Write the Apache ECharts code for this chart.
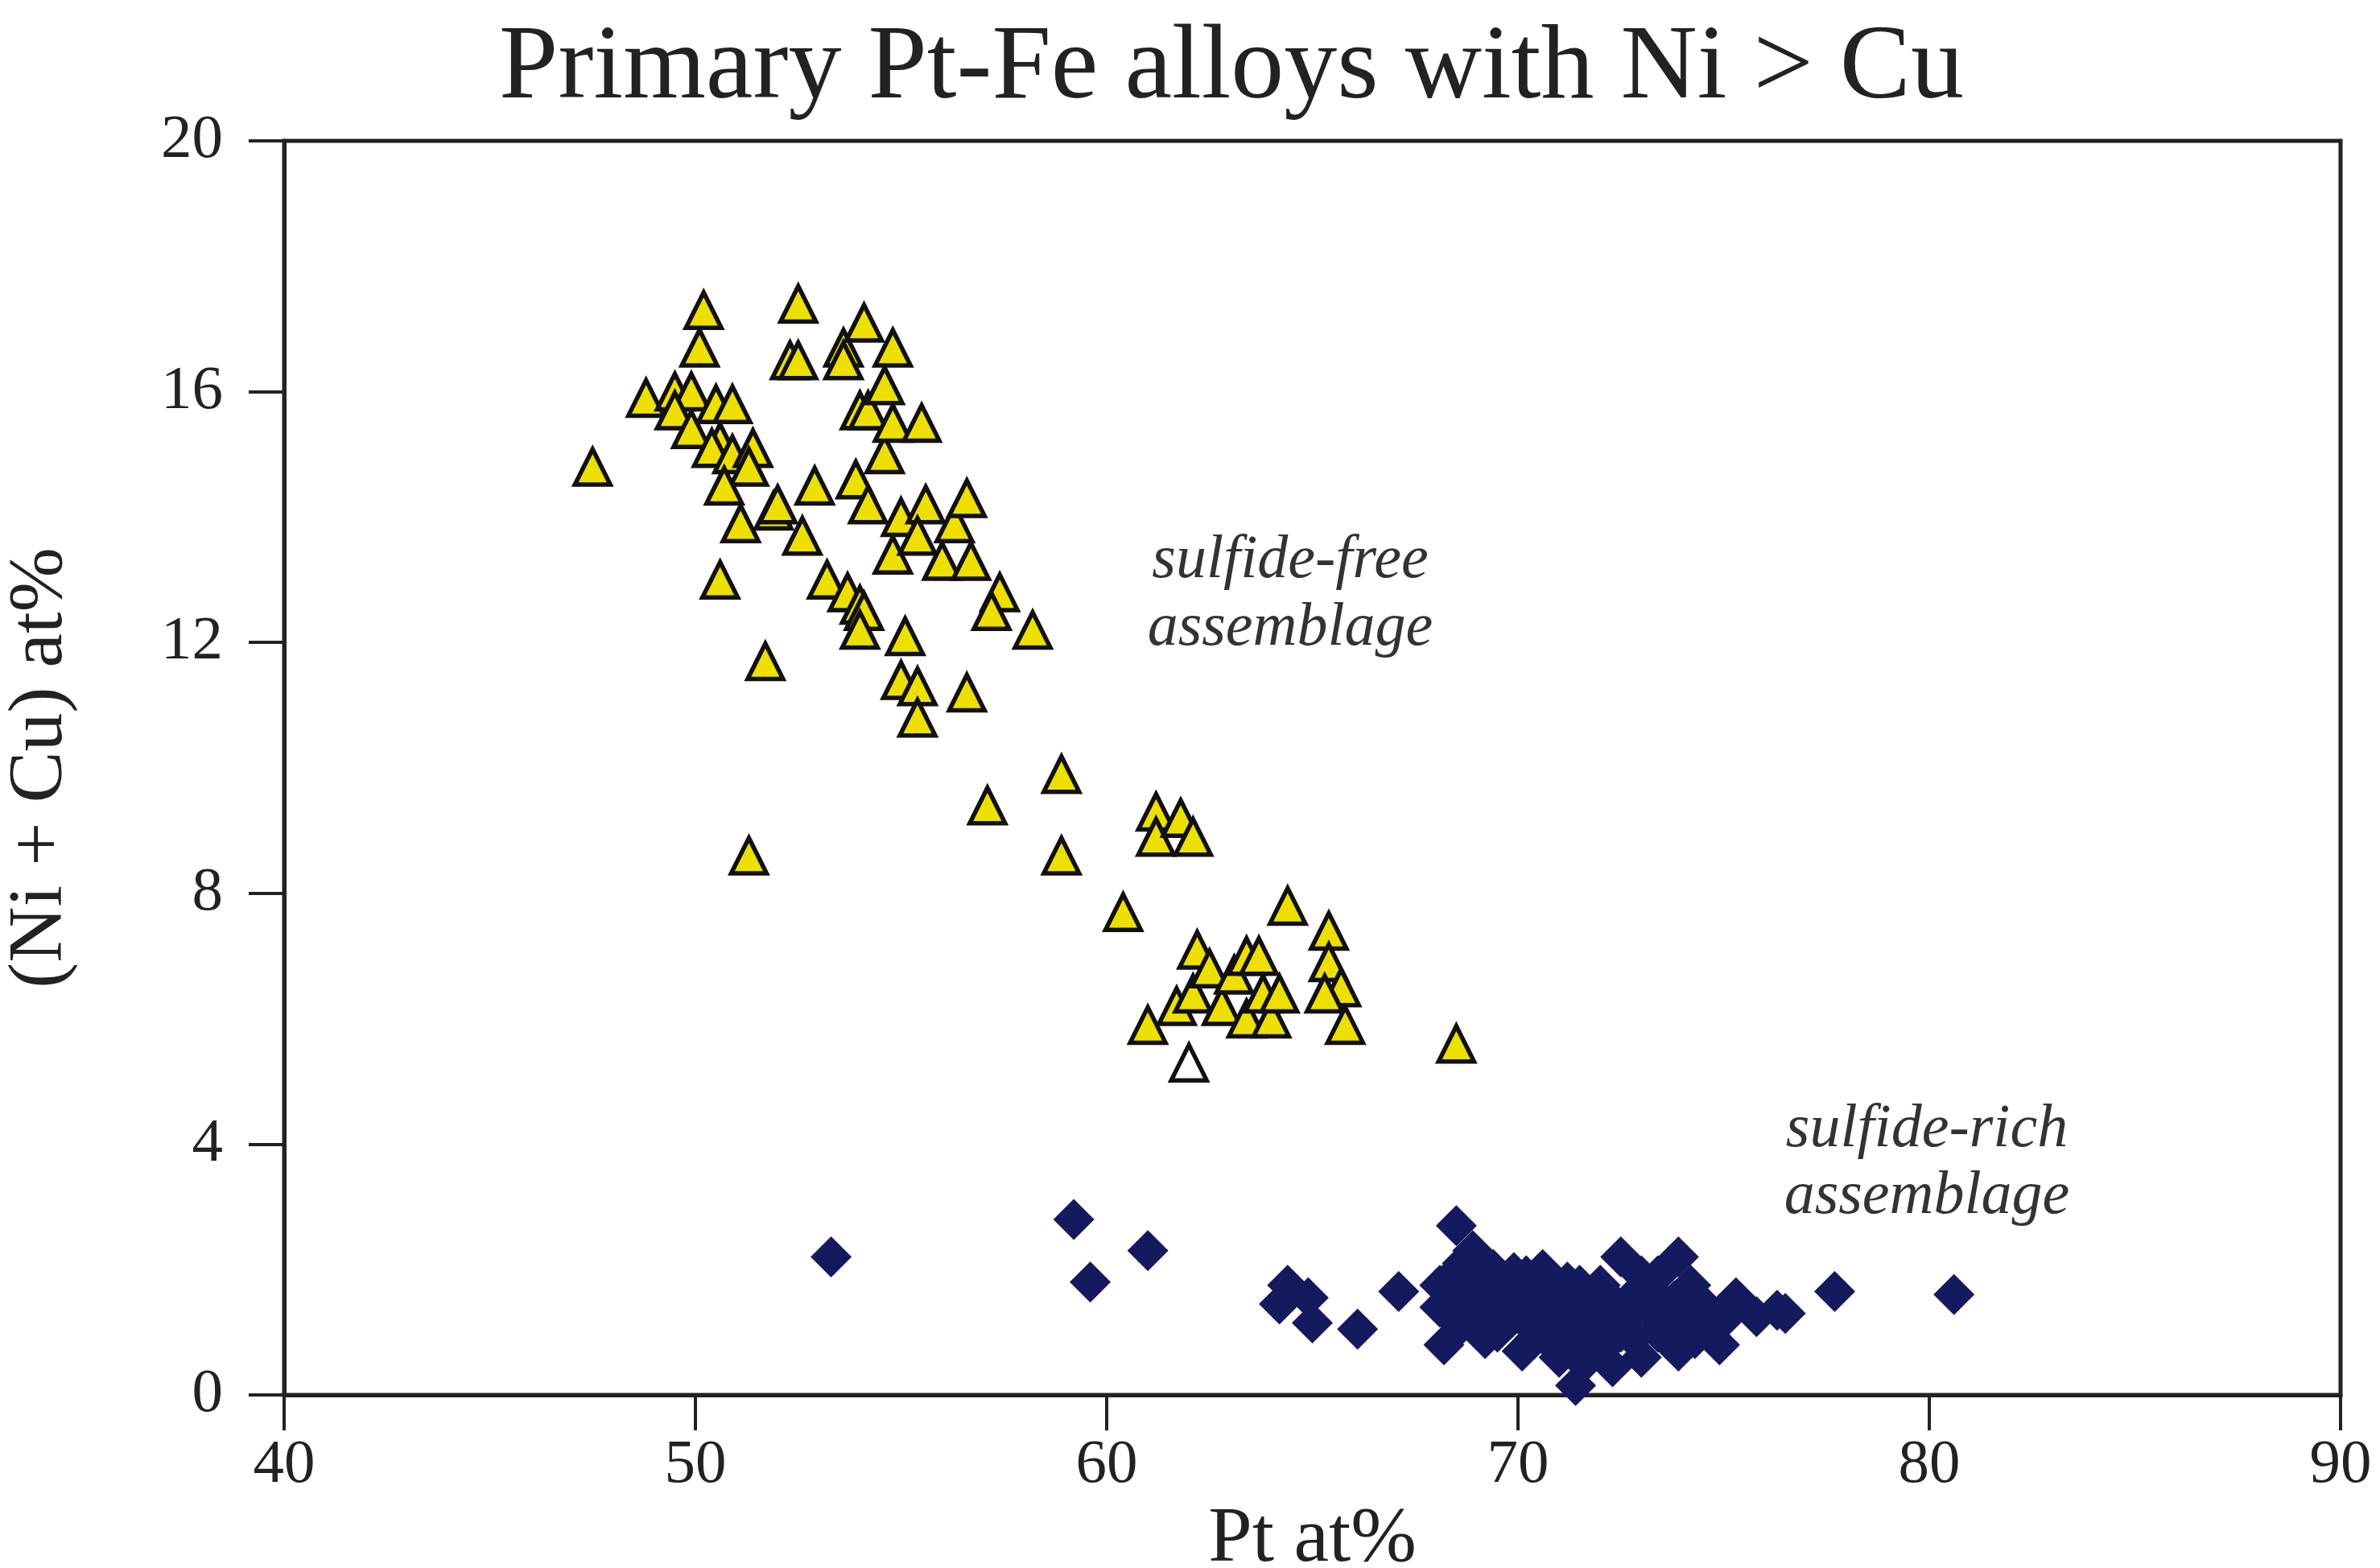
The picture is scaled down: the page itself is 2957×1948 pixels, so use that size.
<!DOCTYPE html>
<html lang="en">
  <head>
    <meta charset="UTF-8" />
    <title>Pt-Fe alloys</title>
    <style>
      body, html {
        margin: 0;
        width: 100%;
        height: 100%;
        background: #fff;
      }
    </style>
  </head>
  <body>
    <div id="main" style="width:100%;height:100%;"></div>

    <script src="https://cdn.jsdelivr.net/npm/echarts@6/dist/echarts.min.js"></script>
    <script>
      // sulfide-free assemblage (yellow triangles): [Pt at%, Ni+Cu at%]
      const sulfideFree = [
        [47.5, 14.8], [48.8, 15.9], [49.5, 16.0], [49.9, 16.0], [49.5, 15.7], [49.9, 15.4],
        [50.2, 17.3], [50.1, 16.7], [50.5, 15.8], [50.9, 15.8], [50.6, 15.2], [50.4, 15.1],
        [50.9, 15.0], [51.4, 15.1], [51.3, 14.8], [50.7, 14.5], [50.6, 13.0], [51.1, 13.9],
        [51.7, 11.7], [51.3, 8.6], [51.9, 14.1], [52.0, 14.2], [52.5, 17.4], [52.3, 16.5],
        [52.5, 16.5], [52.6, 13.7], [52.9, 14.5], [53.2, 13.0], [53.6, 16.7], [53.6, 16.5],
        [53.7, 12.8], [54.0, 12.6], [54.1, 12.5], [54.0, 12.2], [53.9, 14.6], [54.1, 17.1],
        [54.0, 15.7], [54.2, 15.7], [54.2, 14.2], [54.6, 15.0], [54.8, 15.5], [54.8, 16.7],
        [54.6, 16.1], [55.0, 14.0], [55.5, 15.5], [55.6, 14.2], [54.8, 13.4], [55.4, 13.7],
        [56.0, 13.3], [56.3, 13.9], [56.6, 14.3], [56.7, 13.3], [55.1, 12.1], [55.0, 11.4],
        [55.4, 11.3], [55.4, 10.8], [56.6, 11.2], [57.4, 12.8], [57.2, 12.5], [58.2, 12.2],
        [57.1, 9.4], [58.9, 9.9], [58.9, 8.6], [60.4, 7.7], [61.2, 9.3], [61.2, 8.9],
        [61.8, 9.2], [62.1, 8.9], [61.0, 5.9], [61.7, 6.2], [62.1, 6.4], [62.2, 7.1],
        [62.5, 6.8], [62.8, 6.2], [63.1, 6.7], [63.4, 7.0], [63.7, 7.0], [63.4, 6.0],
        [63.8, 6.4], [64.0, 6.0], [64.2, 6.4], [64.4, 7.8], [65.4, 7.4], [65.4, 6.9],
        [65.7, 6.5], [65.3, 6.4], [65.8, 5.9], [68.5, 5.6],
      ];

      // single open triangle
      const openTriangle = [[62.0, 5.3]];

      // sulfide-rich assemblage (navy diamonds)
      const sulfideRich = [
        [53.3, 2.2], [59.2, 2.8], [59.6, 1.8], [61.0, 2.3], [64.2, 1.45], [64.4, 1.75],
        [64.9, 1.55], [65.0, 1.15], [66.1, 1.05], [67.1, 1.65], [68.5, 2.7], [68.2, 0.8],
        [68.1, 1.75], [68.1, 1.4], [68.65, 2.1], [69.0, 1.25], [69.3, 1.6], [69.9, 1.95],
        [70.1, 0.7], [69.5, 1.0], [70.4, 0.9], [70.9, 1.7], [71.0, 0.6], [71.4, 0.15],
        [71.5, 1.75], [72.0, 1.75], [72.3, 0.45], [72.5, 2.2], [72.9, 1.65], [73.0, 0.6],
        [73.6, 0.9], [73.9, 2.2], [73.9, 0.7], [74.2, 1.75], [74.5, 1.45], [74.9, 0.8],
        [75.3, 1.55], [75.8, 1.25], [76.3, 1.35], [76.5, 1.3], [77.7, 1.65], [80.6, 1.6],
        [69.5, 1.3], [70.5, 1.3], [71.2, 1.1], [71.8, 1.3], [72.5, 1.0], [73.2, 1.3],
        [73.8, 1.5], [74.0, 1.1], [70.0, 1.5], [71.0, 1.5], [72.3, 1.5], [69.0, 1.8],
        [70.3, 1.1], [71.6, 0.9], [73.5, 1.2], [74.6, 1.1], [72.7, 1.2],
        [68.7, 1.5], [69.2, 0.9], [69.6, 1.7], [70.2, 1.9], [70.7, 0.9], [70.8, 1.2],
        [71.3, 1.4], [71.8, 1.6], [72.1, 1.1], [72.0, 0.7], [72.8, 0.9], [73.2, 1.7],
        [73.4, 1.0], [74.0, 1.4], [74.3, 0.9], [73.0, 1.9], [71.6, 0.5], [70.6, 1.6],
        [69.8, 1.2], [68.6, 1.1], [68.4, 1.9], [75.0, 1.2], [72.6, 1.4], [71.1, 0.8],
        [68.9, 2.3], [69.4, 2.0], [70.6, 2.0], [71.2, 1.8], [73.4, 1.9], [74.2, 1.2],
      ];

      const xTicks = [40, 50, 60, 70, 80, 90];
      const yTicks = [0, 4, 8, 12, 16, 20];

      const FONT = "'Liberation Serif', 'DejaVu Serif', serif";
      const INK = '#222';

      const myChart = echarts.init(document.getElementById('main'));

      const option = {
        animation: false,
        backgroundColor: '#fff',
        grid: {
          left: 353,
          right: 49,
          top: 175,
          bottom: 215,
          show: true,
          borderColor: INK,
          borderWidth: 5,
          outerBoundsMode: 'none',
        },
        xAxis: {
          type: 'value',
          min: xTicks[0],
          max: xTicks[xTicks.length - 1],
          interval: 10,
          name: 'Pt at%',
          nameLocation: 'middle',
          nameGap: 158,
          nameTextStyle: { fontFamily: FONT, fontSize: 98, color: INK, verticalAlign: 'middle' },
          axisLine: { lineStyle: { color: INK, width: 5 } },
          axisTick: { inside: false, length: 44, lineStyle: { color: INK, width: 4 } },
          axisLabel: { margin: 49, fontFamily: FONT, fontSize: 77, color: INK, showMinLabel: true, showMaxLabel: true },
          splitLine: { show: false },
        },
        yAxis: {
          type: 'value',
          min: yTicks[0],
          max: yTicks[yTicks.length - 1],
          interval: 4,
          name: '(Ni + Cu) at%',
          nameLocation: 'middle',
          nameGap: 302,
          nameTextStyle: { fontFamily: FONT, fontSize: 96, color: INK, verticalAlign: 'middle' },
          axisLine: { lineStyle: { color: INK, width: 5 } },
          axisTick: { inside: false, length: 44, lineStyle: { color: INK, width: 4 } },
          axisLabel: { margin: 76, fontFamily: FONT, fontSize: 77, color: INK, showMinLabel: true, showMaxLabel: true },
          splitLine: { show: false },
        },
        graphic: [
          {
            type: 'text',
            x: 1530,
            y: 86,
            style: {
              text: 'Primary Pt-Fe alloys with Ni > Cu',
              font: '132px ' + FONT,
              fill: INK,
              textAlign: 'center',
              textVerticalAlign: 'middle',
            },
          },
          {
            type: 'text',
            x: 1603,
            y: 697,
            style: { text: 'sulfide-free', font: 'italic 76px ' + FONT, fill: '#333', textAlign: 'center', textVerticalAlign: 'middle' },
          },
          {
            type: 'text',
            x: 1603,
            y: 781,
            style: { text: 'assemblage', font: 'italic 76px ' + FONT, fill: '#333', textAlign: 'center', textVerticalAlign: 'middle' },
          },
          {
            type: 'text',
            x: 2394,
            y: 1404,
            style: { text: 'sulfide-rich', font: 'italic 76px ' + FONT, fill: '#333', textAlign: 'center', textVerticalAlign: 'middle' },
          },
          {
            type: 'text',
            x: 2394,
            y: 1487,
            style: { text: 'assemblage', font: 'italic 76px ' + FONT, fill: '#333', textAlign: 'center', textVerticalAlign: 'middle' },
          },
        ],
        series: [
          {
            name: 'sulfide-rich',
            type: 'scatter',
            symbol: 'diamond',
            symbolSize: [51, 51],
            itemStyle: { color: '#15195E', opacity: 1 },
            data: sulfideRich,
          },
          {
            name: 'sulfide-free',
            type: 'scatter',
            symbol: 'triangle',
            symbolSize: [44, 44],
            itemStyle: { color: '#EDE000', borderColor: '#111', borderWidth: 5.5, opacity: 1 },
            data: sulfideFree,
          },
          {
            name: 'open',
            type: 'scatter',
            symbol: 'triangle',
            symbolSize: [44, 44],
            itemStyle: { color: '#fff', borderColor: '#111', borderWidth: 5.5, opacity: 1 },
            data: openTriangle,
          },
        ],
      };

      myChart.setOption(option);
    </script>
  </body>
</html>
